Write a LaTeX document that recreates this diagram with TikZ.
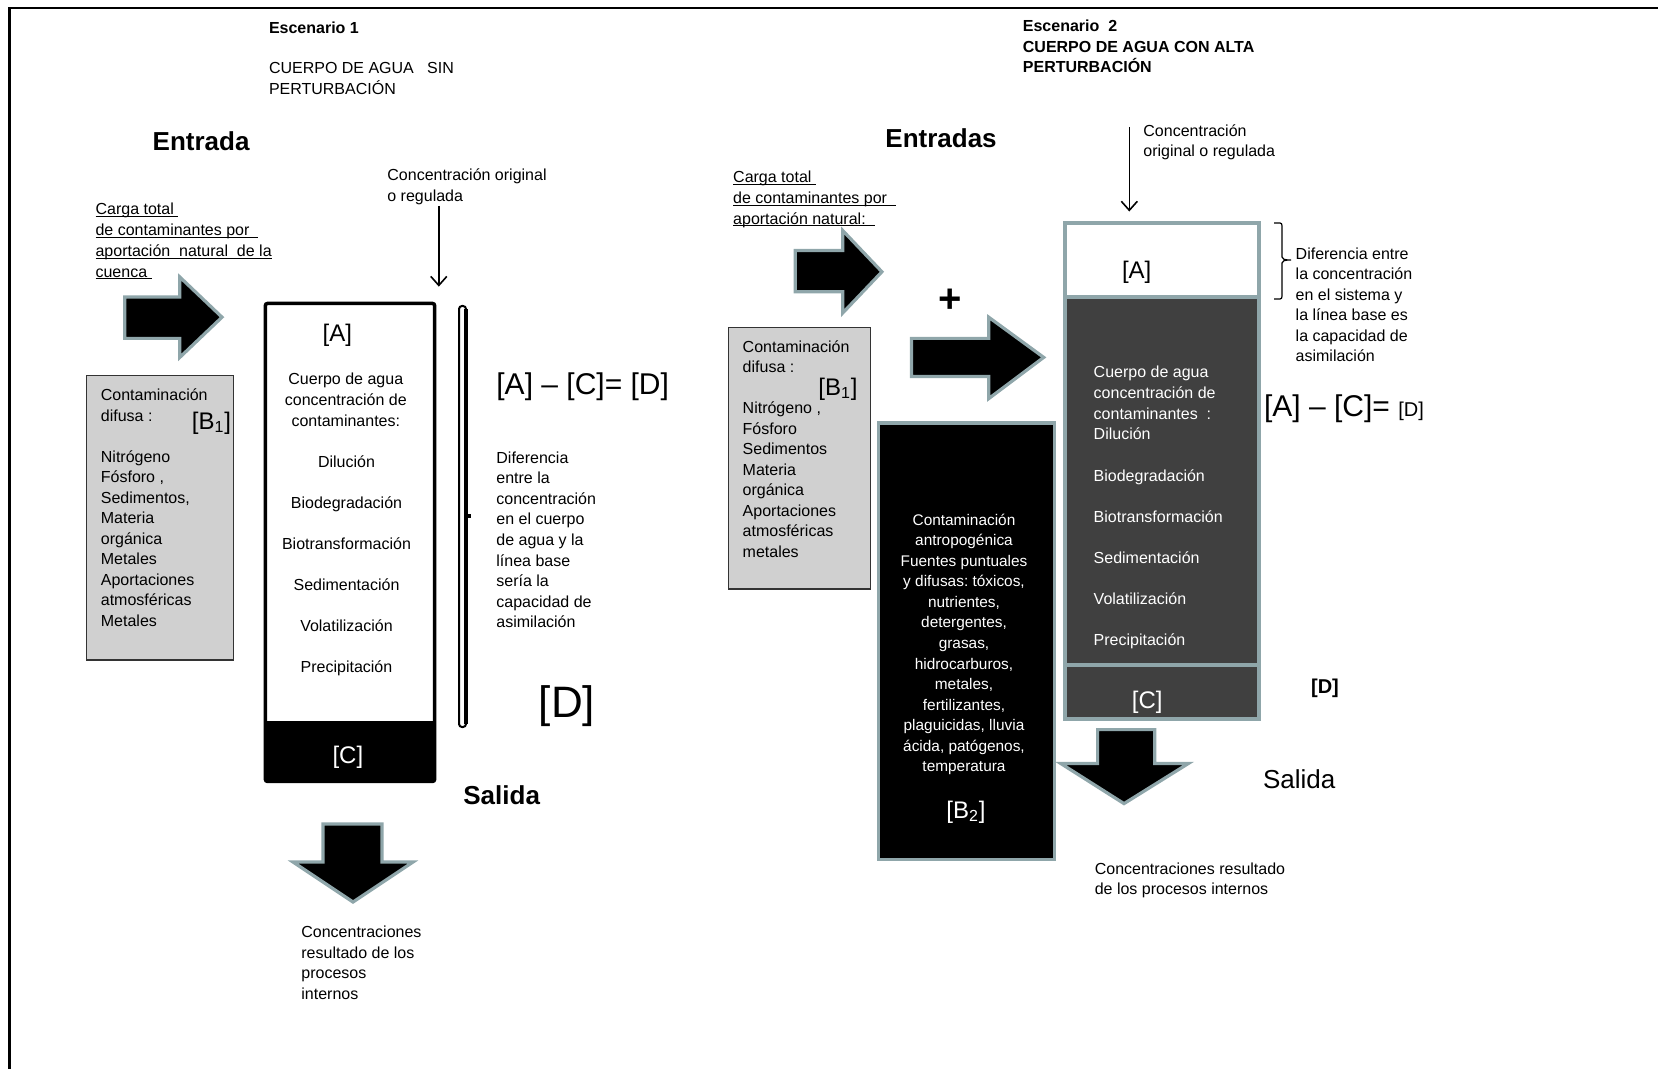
\documentclass[tikz,border=0pt]{standalone}
\usepackage{fontspec}
\setmainfont{Liberation Sans}
\usetikzlibrary{arrows.meta}
\definecolor{edgeteal}{RGB}{143,166,170}
\definecolor{boxgray}{RGB}{208,208,208}
\definecolor{bodydark}{RGB}{64,64,64}
\frenchspacing
\newcommand\bodyfont{\fontsize{8}{10.3}\selectfont}
% thin underline set just under the baseline
\newcommand\undl[1]{\setbox0\hbox{#1}\rlap{\rule[-1.1pt]{\wd0}{0.45pt}}\box0}
\tikzset{
  txt/.style={inner sep=0pt, anchor=north west, align=left, font=\bodyfont},
  ctxt/.style={inner sep=0pt, anchor=north, align=center, font=\bodyfont},
  blockarrow/.style={fill=black, draw=edgeteal, line width=1.6pt, line join=miter},
  tag/.style={inner sep=0pt, font=\fontsize{12}{14}\selectfont},
  bigtxt/.style={inner sep=0pt, anchor=west, font=\fontsize{15}{18}\selectfont},
  heading/.style={inner sep=0pt, anchor=west, font=\bfseries\fontsize{13}{15}\selectfont},
  feedline/.style={line width=0.8pt, -{Straight Barb[length=4.5pt,width=8pt]}},
  waterbox/.style={draw=edgeteal, line width=2pt, fill=bodydark},
}
\begin{document}
\begin{tikzpicture}[x=0.5pt,y=-0.5pt]
\useasboundingbox (0,0) rectangle (1658,1069);
% page frame
\draw[line width=1.3pt] (1658,8) -- (9.5,8) -- (9.5,1069);

% ---------------- Escenario 1 ----------------
\node[txt, font=\bfseries\bodyfont] (esc1) at (268.6,21.8) {Escenario 1};
\node[txt, font=\fontsize{8}{10.6}\selectfont] (tit1) at (268.6,62) {CUERPO DE AGUA\ \ \ SIN\\PERTURBACIÓN};
\node[heading] (entrada) at (152.3,141.7) {Entrada};
\node[txt, font=\fontsize{8}{10.05}\selectfont] (orig1) at (387,168.8) {Concentración original\\o regulada};
\coordinate (in1a) at (438.8,206);
\coordinate (in1b) at (438.8,286.6);
\draw[feedline] (in1a) -- (in1b);
\node[txt, font=\fontsize{8}{10.4}\selectfont] (carga1) at (95.2,202.7)
  {\undl{Carga total\ }\\\undl{de contaminantes por\ \ }\\\undl{aportación\ \ natural\ \ de la}\\\undl{cuenca\ }};
\draw[blockarrow] (124.8,297.1) -- (179.8,297.1) -- (179.8,277) -- (222,317.2)
  -- (179.8,357.4) -- (179.8,338.4) -- (124.8,338.4) -- cycle;

% diffuse load box
\draw[fill=boxgray, draw=black!80, line width=0.7pt] (86.7,375.4) rectangle (233.7,659.8);
\node[txt, font=\fontsize{8}{10.25}\selectfont] (b1list) at (100.5,388.8)
  {Contaminación\\difusa :\\[10.1pt]Nitrógeno\\Fósforo ,\\Sedimentos,\\Materia\\orgánica\\Metales\\Aportaciones\\atmosféricas\\Metales};
\node[tag] (b1tag) at (211.5,423) {[B\textsubscript{1}]};

% water body column
\draw[fill=white, draw=black, line width=1.75pt, rounded corners=1pt] (265.4,303.5) rectangle (434.6,781.4);
\fill[black] (265.4,721.1) rectangle (434.6,781.4);
\node[tag] (a1) at (337.3,335.2) {[A]};
\node[ctxt, font=\fontsize{8}{10.3}\selectfont] (cuerpo1) at (345.8,372.9)
  {Cuerpo de agua\\concentración de\\contaminantes:};
\node[ctxt, font=\fontsize{8}{20.5}\selectfont] (proc1) at (346.5,455.4)
  {Dilución\\Biodegradación\\Biotransformación\\Sedimentación\\Volatilización\\Precipitación};
\node[tag, text=white] (c1) at (347.9,757.1) {[C]};

% side bracket
\draw[line width=1pt, rounded corners=1.5pt, fill=white] (459,306) rectangle (466,727);
\draw[line width=2.2pt] (466,309) -- (466,724);
\draw[line width=2pt] (466,516) -- (471,516);

\node[bigtxt] (eq1) at (496,387) {[A] – [C]= [D]};
\node[txt, font=\fontsize{8}{10.3}\selectfont] (dif1) at (496,451.1)
  {Diferencia\\entre la\\concentración\\en el cuerpo\\de agua y la\\línea base\\sería la\\capacidad de\\asimilación};
\node[inner sep=0pt, font=\fontsize{22}{26}\selectfont] (bigD) at (567,706.3) {[D]};
\node[heading] (salida1) at (463,795.2) {Salida};
\draw[blockarrow] (323,824) -- (382,824) -- (382,862) -- (413,862) -- (353,902)
  -- (293,862) -- (323,862) -- cycle;
\node[txt, font=\fontsize{8}{10.2}\selectfont] (out1) at (301,925.9)
  {Concentraciones\\resultado de los\\procesos\\internos};

% ---------------- Escenario 2 ----------------
\node[txt, font=\bfseries\fontsize{8}{10.3}\selectfont] (esc2) at (1022.5,19.7)
  {Escenario\ \ 2\\CUERPO DE AGUA CON ALTA\\PERTURBACIÓN};
\node[heading] (entradas) at (885,138.5) {Entradas};
\node[txt, font=\fontsize{8}{10.05}\selectfont] (orig2) at (1143,124.4) {Concentración\\original o regulada};
\coordinate (in2a) at (1129.3,126.9);
\coordinate (in2b) at (1129.3,211.5);
\draw[feedline] (in2a) -- (in2b);
\node[txt, font=\fontsize{8}{10.3}\selectfont] (carga2) at (732.8,170.9)
  {\undl{Carga total\ }\\\undl{de contaminantes por\ \ }\\\undl{aportación natural:\ \ }};
\draw[blockarrow] (795.2,250.6) -- (842.7,250.6) -- (842.7,230.5) -- (881.9,271.8)
  -- (842.7,313) -- (842.7,291.8) -- (795.2,291.8) -- cycle;
\node[inner sep=0pt, font=\bfseries\fontsize{20}{24}\selectfont] (plus) at (950.6,300.3) {+};
\draw[blockarrow] (911.5,338.4) -- (988.7,338.4) -- (988.7,317.2) -- (1043.7,357.4)
  -- (988.7,398.6) -- (988.7,376.4) -- (911.5,376.4) -- cycle;

% diffuse load box
\draw[fill=boxgray, draw=black!80, line width=0.7pt] (728.6,327.8) rectangle (870.2,589);
\node[txt, font=\fontsize{8}{10.27}\selectfont] (b1list2) at (742.3,340.1)
  {Contaminación\\difusa :\\[10.1pt]Nitrógeno ,\\Fósforo\\Sedimentos\\Materia\\orgánica\\Aportaciones\\atmosféricas\\metales};
\node[tag] (b1tag2) at (838,389.1) {[B\textsubscript{1}]};

% anthropogenic load box
\draw[fill=black, draw=edgeteal, line width=1.6pt] (878.7,423) rectangle (1054.2,859.7);
\node[ctxt, text=white, font=\fontsize{7.7}{10.27}\selectfont] (b2list) at (964,513.5)
  {Contaminación\\antropogénica\\Fuentes puntuales\\y difusas: tóxicos,\\nutrientes,\\detergentes,\\grasas,\\hidrocarburos,\\metales,\\fertilizantes,\\plaguicidas, lluvia\\ácida, patógenos,\\temperatura};
\node[tag, text=white] (b2tag) at (966,812.1) {[B\textsubscript{2}]};

% water body column
\draw[draw=edgeteal, line width=2pt, fill=white] (1064.8,223.1) rectangle (1259.4,297.1);
\draw[waterbox] (1064.8,297.1) rectangle (1259.4,665.1);
\draw[waterbox] (1064.8,665.1) rectangle (1259.4,719);
\node[tag] (a2) at (1136.7,271.8) {[A]};
\node[txt, text=white, font=\fontsize{8}{10.4}\selectfont] (proc2) at (1093.3,365.5)
  {Cuerpo de agua\\concentración de\\contaminantes\ \ :\\Dilución\\[10.2pt]Biodegradación\\[10.2pt]Biotransformación\\[10.2pt]Sedimentación\\[10.2pt]Volatilización\\[10.2pt]Precipitación};
\node[tag, text=white] (c2) at (1147.3,702.1) {[C]};

% brace beside the top section
\draw[line width=0.6pt] (1274,223) -- (1280,223) .. controls (1281.5,223) and (1282,224) .. (1282,226)
  -- (1282,257) .. controls (1282,259) and (1284,260) .. (1291,260)
  .. controls (1284,260) and (1282,261) .. (1282,263)
  -- (1282,296) .. controls (1282,298) and (1281.5,299) .. (1280,299) -- (1274,299);
\node[txt, font=\fontsize{8}{10.25}\selectfont] (dif2) at (1295.3,247.1)
  {Diferencia entre\\la concentración\\en el sistema y\\la línea base es\\la capacidad de\\asimilación};
\node[bigtxt] (eq2) at (1263.7,409.2) {[A] – [C]= {\fontsize{10}{12}\selectfont[D]}};
\node[inner sep=0pt, font=\bfseries\fontsize{10}{12}\selectfont] (d2) at (1325,688.4) {[D]};
\draw[blockarrow] (1097.6,729.6) -- (1154.7,729.6) -- (1154.7,763.4) -- (1188.5,763.4)
  -- (1124,803.6) -- (1060.6,763.4) -- (1097.6,763.4) -- cycle;
\node[inner sep=0pt, anchor=west, font=\fontsize{13}{15}\selectfont] (salida2) at (1262.6,779.3) {Salida};
\node[txt, font=\fontsize{8}{10.05}\selectfont] (out2) at (1094.4,862.5)
  {Concentraciones resultado\\de los procesos internos};
\end{tikzpicture}
\end{document}
